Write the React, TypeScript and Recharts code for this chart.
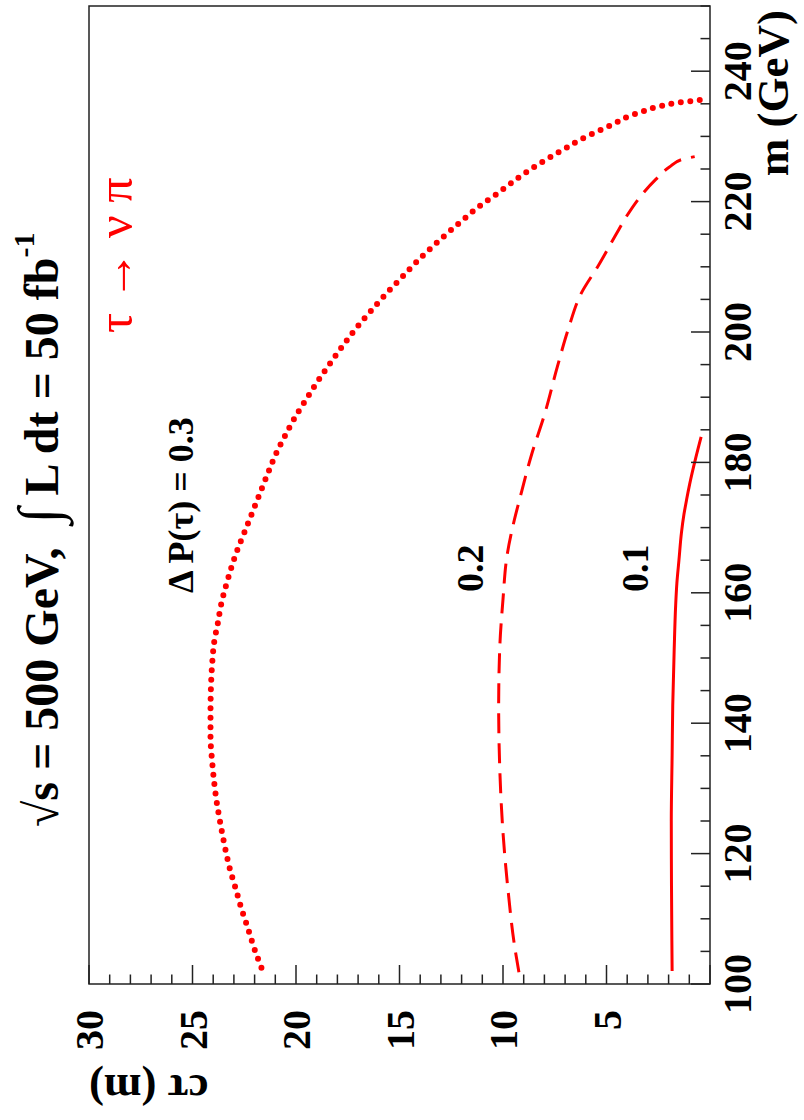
import { LineChart, Line, XAxis, YAxis, ReferenceArea } from "recharts";

// chart is drawn upright, then the whole box is turned 90deg counter-clockwise
const CHART_W = 1120;
const CHART_H = 804;
const FONT = '"Liberation Serif", "Times New Roman", serif';
const RED = "#ff0000";
const AXIS = "#222";

// m (GeV) axis
const massTicks = [100, 105, 110, 115, 120, 125, 130, 135, 140, 145, 150, 155, 160, 165, 170, 175, 180, 185, 190, 195, 200, 205, 210, 215, 220, 225, 230, 235, 240, 245, 250];
const massLabels = [100, 120, 140, 160, 180, 200, 220, 240];

// c tau (m) axis
const ctauTicks = [0, 1, 2, 3, 4, 5, 6, 7, 8, 9, 10, 11, 12, 13, 14, 15, 16, 17, 18, 19, 20, 21, 22, 23, 24, 25, 26, 27, 28, 29, 30];
const ctauLabels = [5, 10, 15, 20, 25, 30];

// dP(tau) = 0.3 (dotted)
const mass03 = [102.5, 105.3, 108.7, 111.5, 114.7, 117.6, 120.5, 125.1, 128.1, 130.3, 134.1, 137.9, 141.6, 145.4, 149.1, 152.9, 155.1, 158.0, 162, 166, 170, 174, 178, 181.7, 184.2, 186.9, 189.7, 192.2, 194.6, 198.1, 200.6, 203.2, 205.8, 208.3, 210.7, 213.2, 215.5, 217.4, 219.4, 221.1, 222.9, 224.6, 226.8, 228.2, 229.6, 230.7, 231.9, 233.0, 233.9, 234.6, 235.1, 235.4, 235.6];
const ctau03 = [21.67, 22.0, 22.34, 22.63, 22.92, 23.19, 23.4, 23.68, 23.84, 23.93, 24.05, 24.13, 24.13, 24.11, 24.05, 23.93, 23.79, 23.63, 23.3, 22.9, 22.4, 21.9, 21.4, 20.91, 20.51, 20.05, 19.5, 19.0, 18.48, 17.69, 17.09, 16.39, 15.66, 14.91, 14.19, 13.37, 12.56, 11.86, 11.1, 10.33, 9.58, 8.83, 7.72, 6.97, 6.21, 5.47, 4.67, 3.97, 3.19, 2.46, 1.72, 0.96, 0.45];

// dP(tau) = 0.2 (dashed)
const mass02 = [101.8, 105.8, 114.5, 123.2, 133.4, 142.6, 151.3, 159.0, 165.6, 171.2, 174.3, 181.4, 187.3, 194.6, 200.3, 206.0, 210.2, 214.8, 217.9, 220.5, 223.4, 225.3, 226.5, 226.9];
const ctau02 = [9.23, 9.44, 9.76, 10.0, 10.16, 10.21, 10.16, 10.0, 9.81, 9.45, 9.2, 8.6, 8.0, 7.38, 6.86, 6.21, 5.39, 4.57, 4.0, 3.43, 2.62, 1.96, 1.31, 0.74];

// dP(tau) = 0.1 (solid)
const mass01 = [102, 115, 125, 135, 142.7, 151.3, 158, 161.5, 165, 169.2, 172, 174.3, 176.7, 180.8, 183.9];
const ctau01 = [1.83, 1.86, 1.87, 1.83, 1.8, 1.73, 1.66, 1.6, 1.5, 1.38, 1.26, 1.13, 0.98, 0.68, 0.43];

const toRows = (ms: number[], cs: number[]) => ms.map((m, i) => ({ m, ct: cs[i] }));
const rows03 = toRows(mass03, ctau03);
const rows02 = toRows(mass02, ctau02);
const rows01 = toRows(mass01, ctau01);

const MassTick = (props: any) => {
  const { x, y, payload } = props;
  const v = payload.value;
  const len = v % 20 === 0 ? 19 : 9.5;
  return (
    <g>
      <line x1={x} y1={y} x2={x} y2={y - len} stroke={AXIS} strokeWidth={1.5} />
      {massLabels.includes(v) && (
        <text x={x} y={y + 41} textAnchor="middle" fontFamily={FONT} fontWeight="bold" fontSize={40} fill="#000">
          {v}
        </text>
      )}
    </g>
  );
};

const CtauTick = (props: any) => {
  const { x, y, payload } = props;
  const v = payload.value;
  const len = v % 5 === 0 ? 19 : 9.5;
  return (
    <g>
      <line x1={x} y1={y} x2={x + len} y2={y} stroke={AXIS} strokeWidth={1.5} />
      {ctauLabels.includes(v) && (
        <text x={x - 26} y={y} dy="0.35em" textAnchor="end" fontFamily={FONT} fontWeight="bold" fontSize={40} fill="#000">
          {v}
        </text>
      )}
    </g>
  );
};

export default function App() {
  return (
    <div style={{ position: "absolute", left: 0, top: 0, width: 804, height: 1120, overflow: "hidden", background: "#fff" }}>
      <div
        style={{
          position: "absolute",
          left: 0,
          top: 0,
          width: CHART_W,
          height: CHART_H,
          transformOrigin: "0 0",
          transform: "translate(0px, 1120px) rotate(-90deg)",
        }}
      >
        <LineChart width={CHART_W} height={CHART_H} margin={{ top: 89, right: 6, bottom: 0, left: 0 }}>
          <XAxis
            dataKey="m"
            type="number"
            domain={[100, 250]}
            ticks={massTicks}
            interval={0}
            height={94}
            tickSize={0}
            tickMargin={0}
            tick={<MassTick />}
            axisLine={false}
            allowDataOverflow
          />
          <YAxis
            type="number"
            domain={[0, 30]}
            ticks={ctauTicks}
            interval={0}
            width={136}
            tickSize={0}
            tickMargin={0}
            tick={<CtauTick />}
            axisLine={false}
            allowDataOverflow
          />
          <Line
            data={rows03}
            dataKey="ct"
            type="monotone"
            stroke={RED}
            strokeWidth={6}
            strokeLinecap="round"
            strokeDasharray="0 9.5"
            dot={false}
            activeDot={false}
            isAnimationActive={false}
          />
          <Line
            data={rows02}
            dataKey="ct"
            type="monotone"
            stroke={RED}
            strokeWidth={3}
            strokeDasharray="20 10"
            dot={false}
            activeDot={false}
            isAnimationActive={false}
          />
          <Line
            data={rows01}
            dataKey="ct"
            type="monotone"
            stroke={RED}
            strokeWidth={3}
            dot={false}
            activeDot={false}
            isAnimationActive={false}
          />
          <ReferenceArea x1={100} x2={250} y1={0} y2={30} fill="none" stroke={AXIS} strokeWidth={1.5} ifOverflow="visible" />
        </LineChart>

        <svg width={CHART_W} height={CHART_H} style={{ position: "absolute", left: 0, top: 0, pointerEvents: "none" }}>
          <g fontFamily={FONT} fontWeight="bold" fill="#000">
            <text x={293} y={58} fontSize={48} style={{ whiteSpace: "pre" }}>
              √s = 500 GeV,  <tspan fontSize={58}>∫</tspan> L dt = 50 fb<tspan dy={-24} fontSize={30}>-1</tspan>
            </text>
            <text x={1110} y={788} fontSize={45} textAnchor="end">m (GeV)</text>
            <text x={45} y={89} fontSize={45} textAnchor="end" transform="rotate(-90 45 89)">cτ (m)</text>
            <text x={527} y={193} fontSize={36}>Δ P(τ) = 0.3</text>
            <text x={528} y={483} fontSize={38}>0.2</text>
            <text x={528} y={648} fontSize={38}>0.1</text>
          </g>
          <text x={787} y={132} fontSize={50} fontFamily={FONT} fill={RED}>τ → ν π</text>
        </svg>
      </div>
    </div>
  );
}
